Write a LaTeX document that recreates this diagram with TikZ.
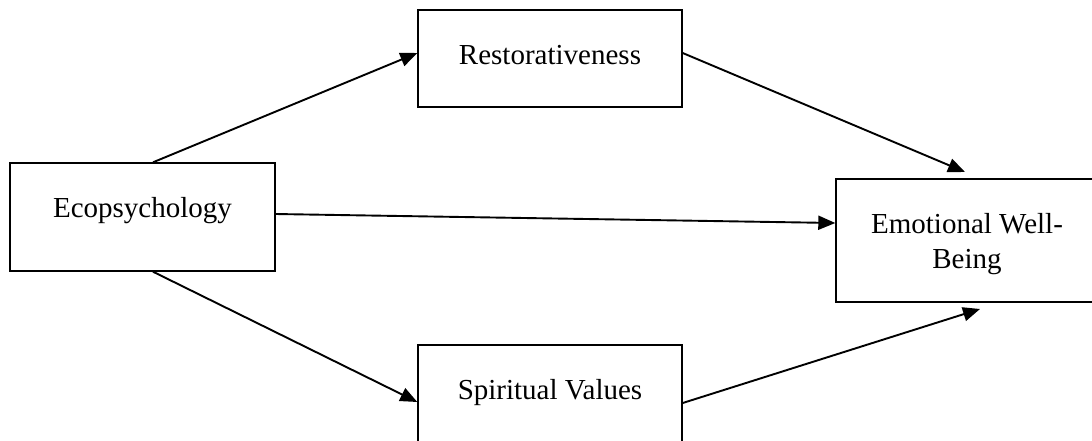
\documentclass[tikz,border=0pt]{standalone}
\usepackage{fontspec}
\setmainfont{Liberation Serif}
\usetikzlibrary{arrows.meta}
\tikzset{
     mainBox/.style =
        { rectangle
        , draw
        , line width=1.4pt
        , inner sep=0pt
        , align=center
        , font=\fontsize{29}{35}\selectfont
        , text height=54pt
        %, fill=white
        }
}

\begin{document}
\begin{tikzpicture}
            [ x=1pt
            , y=-1pt
            , ->
            , >={Triangle[length=17pt,width=14pt]}
            , line width=1.9pt
            ]
            \useasboundingbox (0,0) rectangle (1092,440);
            \clip (0,0) rectangle (1092,440);

            \node[mainBox, minimum width=265pt, text depth=54pt] (1) at (142.5,217) {Ecopsychology};
            \node[mainBox, minimum width=264pt, text depth=43pt] (2) at (550,58.5) {Restorativeness};
            \node[mainBox, minimum width=264pt, text depth=43pt] (3) at (550,393.5) {Spiritual Values};
            \node[mainBox, minimum width=262pt, text height=89pt, text depth=34pt] (4) at (967,240.5) {Emotional Well-\\Being};

            \coordinate (t1) at (965,172);
            \coordinate (t2) at (980,309);

            \path
            ([xshift=10.5pt]1.north) edge ([yshift=5.5pt]2.west)
            ([yshift=5.5pt]2.east) edge (t1)
            ([yshift=3pt]1.east) edge ([yshift=17.5pt]4.west)

            ([xshift=10.5pt]1.south) edge ([yshift=-8.5pt]3.west)
            ([yshift=-9.5pt]3.east) edge (t2)
            ;
        \end{tikzpicture}
\end{document}
